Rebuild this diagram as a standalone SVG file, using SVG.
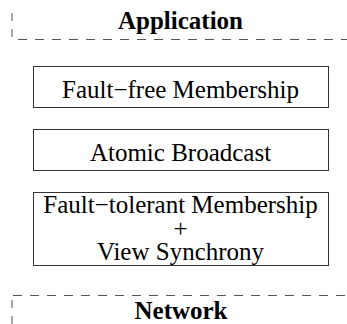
<svg xmlns="http://www.w3.org/2000/svg" width="347" height="324" viewBox="0 0 347 324">
<style>
.dash{stroke:#555;stroke-width:1;fill:none}
.box{fill:#fff;stroke:#333;stroke-width:1}
.t{font-family:"Liberation Serif","Times New Roman",serif;font-size:25px;fill:#000;text-anchor:middle}
.b{font-weight:bold}
</style>
<g id="connectors">
<line class="dash" x1="12" y1="13" x2="12" y2="37" stroke-dasharray="8,8"/>
<line class="dash" x1="18" y1="39.5" x2="347" y2="39.5" stroke-dasharray="9,8"/>
<line class="dash" x1="13" y1="295.5" x2="347" y2="295.5" stroke-dasharray="9,8"/>
<line class="dash" x1="12" y1="300" x2="12" y2="324" stroke-dasharray="8,8"/>
</g>
<g id="application"><text class="t b" x="180.5" y="29">Application</text></g>
<g id="network"><text class="t b" x="181" y="319">Network</text></g>
<g id="ffm"><rect class="box" x="33.5" y="66.5" width="295" height="41"/><text class="t" x="180.5" y="98">Fault−free Membership</text></g>
<g id="ab"><rect class="box" x="33.5" y="129.5" width="295" height="41"/><text class="t" x="180.5" y="161">Atomic Broadcast</text></g>
<g id="ftm"><rect class="box" x="33.5" y="192.5" width="295" height="73"/><text class="t" x="180.5" y="213">Fault−tolerant Membership</text><text class="t" x="180.5" y="237">+</text><text class="t" x="180.5" y="260">View Synchrony</text></g>
</svg>
